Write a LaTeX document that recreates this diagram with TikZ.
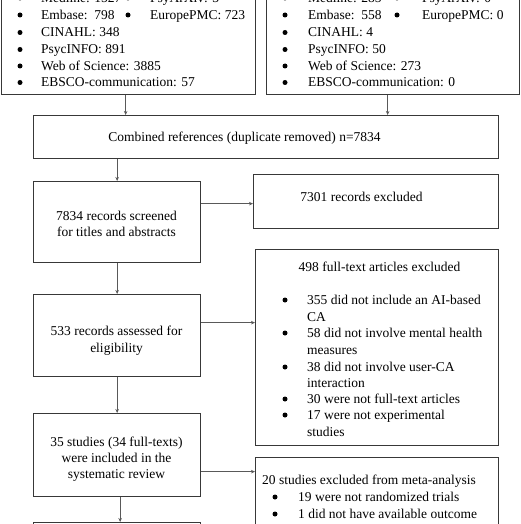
\documentclass[tikz,border=0pt]{standalone}
\usepackage{fontspec}
\setmainfont{Liberation Serif}
\usetikzlibrary{arrows.meta,calc}
\begin{document}
\begin{tikzpicture}[x=1pt,y=-1pt,
  box/.style={draw=black!78,line width=1.3pt,fill=none,rectangle,inner sep=0pt},
  txt/.style={inner sep=0pt,font=\fontsize{13.5}{16.5}\selectfont,text=black},
  bul/.style={circle,fill=black,inner sep=0pt,minimum size=5pt},
  arr/.style={draw=black!65,line width=0.8pt,-{Stealth[length=4pt,width=3.5pt]}}]
\path[use as bounding box] (0,0) rectangle (521,524);
\clip (0,0) rectangle (521,524);

% top left box
\node[box,minimum width=254pt,minimum height=140pt,anchor=south west] (tl) at (1,95) {};
\foreach \y/\t [count=\i] in {2.5/Medline: 1527,19.5/Embase:\ \ 798,37/CINAHL: 348,54/PsycINFO: 891,70.5/Web of Science: 3885,87/EBSCO-communication: 57}{
  \node[bul] (tlb\i) at (20,\y-4.5) {};
  \node[txt,anchor=base west] (tlt\i) at (41,\y) {\t};
}
\node[bul] (tlc1) at (128,2.5-4.5) {};
\node[txt,anchor=base west] (tld1) at (150,2.5) {PsyArXiv: 3};
\node[bul] (tlc2) at (128,19.5-4.5) {};
\node[txt,anchor=base west] (tld2) at (150,19.5) {EuropePMC: 723};

% top right box
\node[box,minimum width=253pt,minimum height=140pt,anchor=south west] (tr) at (266,95) {};
\foreach \y/\t [count=\i] in {2.5/Medline: 285,19.5/Embase:\ \ 558,37/CINAHL: 4,54/PsycINFO: 50,70.5/Web of Science: 273,87/EBSCO-communication: 0}{
  \node[bul] (trb\i) at (285,\y-4.5) {};
  \node[txt,anchor=base west] (trt\i) at (308,\y) {\t};
}
\node[bul] (trc1) at (397,2.5-4.5) {};
\node[txt,anchor=base west] (trd1) at (422,2.5) {PsyArXiv: 0};
\node[bul] (trc2) at (397,19.5-4.5) {};
\node[txt,anchor=base west] (trd2) at (422,19.5) {EuropePMC: 0};

% combined
\node[box,minimum width=465pt,minimum height=43pt,anchor=north west] (comb) at (33,115) {};
\node[txt,anchor=base] (combt) at (244.5,141) {Combined references (duplicate removed) n=7834};

% screened
\node[box,minimum width=167pt,minimum height=81pt,anchor=north west] (scr) at (33,181) {};
\node[txt,anchor=base] (scrt1) at (116.5,220) {7834 records screened};
\node[txt,anchor=base] (scrt2) at (116.5,236) {for titles and abstracts};

% excluded 7301
\node[box,minimum width=245pt,minimum height=54pt,anchor=north west] (ex1) at (253,174) {};
\node[txt,anchor=base] (ex1t) at (361.5,201) {7301 records excluded};

% assessed
\node[box,minimum width=167pt,minimum height=82pt,anchor=north west] (ass) at (33,294) {};
\node[txt,anchor=base] (asst1) at (116.5,335.5) {533 records assessed for};
\node[txt,anchor=base] (asst2) at (116.5,352.5) {eligibility};

% excluded 498
\node[box,minimum width=243pt,minimum height=196pt,anchor=north west] (ex2) at (255,249) {};
\node[txt,anchor=base] (ex2t) at (379.5,271.5) {498 full-text articles excluded};
\foreach \y/\t [count=\i] in {304.5/355 did not include an AI-based,337.5/58 did not involve mental health,371.5/38 did not involve user-CA,403.5/30 were not full-text articles,419.5/17 were not experimental}{
  \node[bul] (ex2b\i) at (285,\y-4.5) {};
  \node[txt,anchor=base west] (ex2l\i) at (307,\y) {\t};
}
\node[txt,anchor=base west] (ex2m1) at (307,321.5) {CA};
\node[txt,anchor=base west] (ex2m2) at (307,354.5) {measures};
\node[txt,anchor=base west] (ex2m3) at (307,387.5) {interaction};
\node[txt,anchor=base west] (ex2m4) at (307,436.5) {studies};

% included
\node[box,minimum width=167pt,minimum height=83pt,anchor=north west] (inc) at (33,413) {};
\node[txt,anchor=base] (inct1) at (116.5,446.5) {35 studies (34 full-texts)};
\node[txt,anchor=base] (inct2) at (116.5,462) {were included in the};
\node[txt,anchor=base] (inct3) at (116.5,478) {systematic review};

% excluded 20
\node[box,minimum width=243pt,minimum height=110pt,anchor=north west] (ex3) at (255,457) {};
\node[txt,anchor=base west] (ex3t) at (262,484.5) {20 studies excluded from meta-analysis};
\node[bul] (ex3b1) at (275,501.5-4.5) {};
\node[txt,anchor=base west] (ex3l1) at (298,501.5) {19 were not randomized trials};
\node[bul] (ex3b2) at (275,518.5-4.5) {};
\node[txt,anchor=base west] (ex3l2) at (298,518.5) {1 did not have available outcome};

% bottom box
\node[box,minimum width=167pt,minimum height=80pt,anchor=north west] (bot) at (33,522) {};

% connectors
\draw[arr] ([xshift=-3pt]tl.south) -- ([xshift=-3pt]tl.south |- comb.north);
\draw[arr] ([xshift=-5.5pt]tr.south) -- ([xshift=-5.5pt]tr.south |- comb.north);
\draw[arr] (comb.south -| scr.north) -- (scr.north);
\draw[arr] ([yshift=18.5pt]scr.east) -- ([yshift=18.5pt]scr.east -| ex1.west);
\draw[arr] (scr.south) -- (ass.north);
\draw[arr] ([yshift=13pt]ass.east) -- ([yshift=13pt]ass.east -| ex2.west);
\draw[arr] (ass.south) -- (inc.north);
\draw[arr] ([yshift=-16.5pt]inc.east) -- ([yshift=-16.5pt]inc.east -| ex3.west);
\draw[arr] ([xshift=3pt]inc.south) -- ([xshift=3pt]inc.south |- bot.north);
\end{tikzpicture}
\end{document}
